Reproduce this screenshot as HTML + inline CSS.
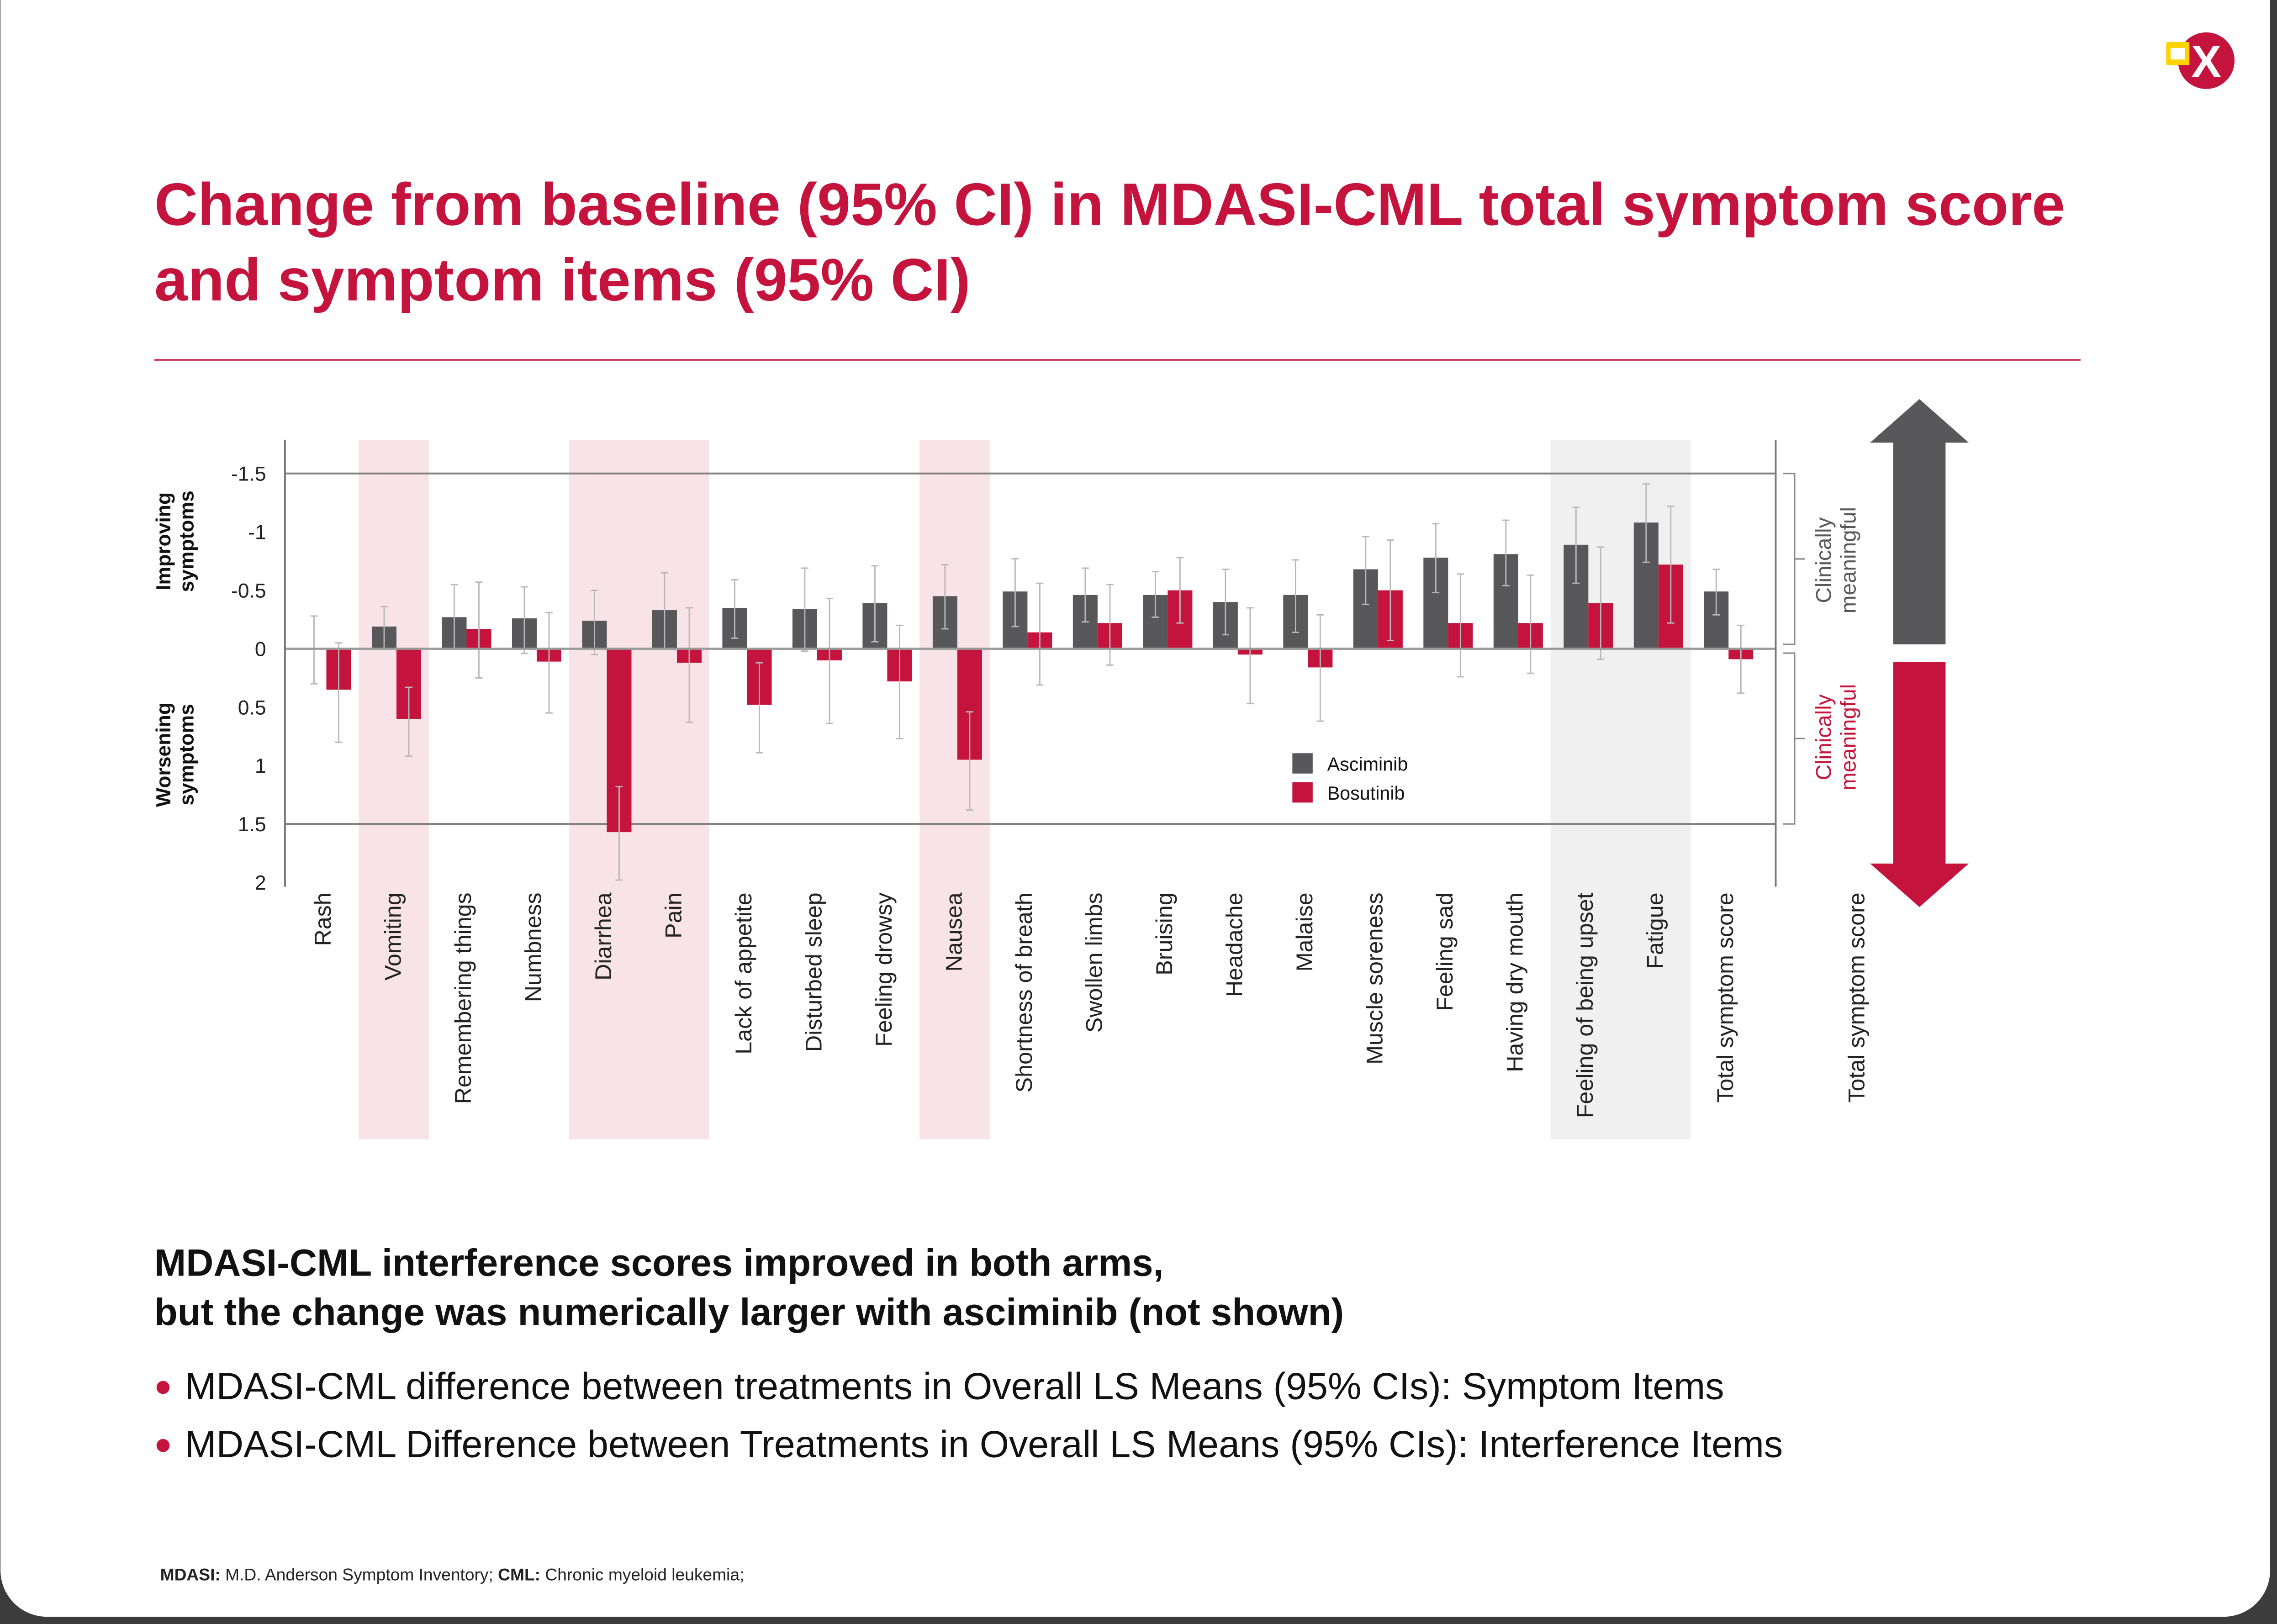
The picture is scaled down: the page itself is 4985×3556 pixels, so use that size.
<!DOCTYPE html>
<html><head><meta charset="utf-8"><style>
html,body{margin:0;padding:0;background:#3d3c3c;}
svg{display:block;}
text{font-family:"Liberation Sans",sans-serif;}
</style></head><body>
<svg id="s" width="4985" height="3556" viewBox="0 0 1568 1119" xmlns="http://www.w3.org/2000/svg">
<rect x="0" y="-40" width="1563.6" height="1154" rx="32" fill="#ffffff"/>
<g>
<circle cx="1519.6" cy="41.8" r="19.5" fill="#c4143d"/>
<text x="1519.6" y="53" font-size="31" font-weight="bold" fill="#fff" text-anchor="middle">X</text>
<rect x="1492" y="29" width="16" height="16" rx="1" fill="#ffd200"/>
<rect x="1495" y="33" width="10" height="8" fill="#fff"/>
</g>
<text font-size="41.3" font-weight="bold" fill="#c4143d"><tspan x="106" y="155">Change from baseline (95% CI) in MDASI-CML total symptom score</tspan><tspan x="106" y="207">and symptom items (95% CI)</tspan></text>
<line x1="106" y1="248" x2="1433" y2="248" stroke="#c4143d" stroke-width="1"/>
<g id="chart"></g>
<text font-size="26.2" font-weight="bold" fill="#111"><tspan x="106" y="879">MDASI-CML interference scores improved in both arms,</tspan><tspan x="106" y="913">but the change was numerically larger with asciminib (not shown)</tspan></text>
<circle cx="112" cy="956" r="4.5" fill="#c4143d"/>
<text x="127" y="964" font-size="26" fill="#111">MDASI-CML difference between treatments in Overall LS Means (95% CIs): Symptom Items</text>
<circle cx="112" cy="996" r="4.5" fill="#c4143d"/>
<text x="127" y="1004" font-size="26" fill="#111">MDASI-CML Difference between Treatments in Overall LS Means (95% CIs): Interference Items</text>
<text x="110" y="1089" font-size="11.7" fill="#222"><tspan font-weight="bold">MDASI:</tspan> M.D. Anderson Symptom Inventory;  <tspan font-weight="bold">CML:</tspan> Chronic myeloid leukemia;</text>
</svg>
<script>
const categories=["Rash","Vomiting","Remembering things","Numbness","Diarrhea","Pain","Lack of appetite","Disturbed sleep","Feeling drowsy","Nausea","Shortness of breath","Swollen limbs","Bruising","Headache","Malaise","Muscle soreness","Feeling sad","Having dry mouth","Feeling of being upset","Fatigue","Total symptom score"];
const asciminib=[0,-0.19,-0.27,-0.26,-0.24,-0.33,-0.35,-0.34,-0.39,-0.45,-0.49,-0.46,-0.46,-0.40,-0.46,-0.68,-0.78,-0.81,-0.89,-1.08,-0.49];
const asciminibLo=[-0.28,-0.36,-0.55,-0.53,-0.50,-0.65,-0.59,-0.69,-0.71,-0.72,-0.77,-0.69,-0.66,-0.68,-0.76,-0.96,-1.07,-1.10,-1.21,-1.41,-0.68];
const asciminibHi=[0.30,0,0,0.04,0.05,0,-0.09,0.02,-0.06,-0.17,-0.19,-0.23,-0.27,-0.12,-0.14,-0.38,-0.48,-0.54,-0.56,-0.74,-0.29];
const bosutinib=[0.35,0.60,-0.17,0.11,1.57,0.12,0.48,0.10,0.28,0.95,-0.14,-0.22,-0.50,0.05,0.16,-0.50,-0.22,-0.22,-0.39,-0.72,0.09];
const bosutinibLo=[-0.05,0.33,-0.57,-0.31,1.18,-0.35,0.12,-0.43,-0.20,0.54,-0.56,-0.55,-0.78,-0.35,-0.29,-0.93,-0.64,-0.63,-0.87,-1.22,-0.20];
const bosutinibHi=[0.80,0.92,0.25,0.55,1.98,0.63,0.89,0.64,0.77,1.38,0.31,0.14,-0.22,0.47,0.62,-0.07,0.24,0.21,0.09,-0.22,0.38];
const yTicks=[-1.5,-1,-0.5,0,0.5,1,1.5,2];
const yTickLabels=["-1.5","-1","-0.5","0","0.5","1","1.5","2"];
const pinkBands=[[1,1],[4,5],[9,9]];
const greyBands=[[18,19]];

const NS="http://www.w3.org/2000/svg";
const g=document.getElementById('chart');
const X0=196,X1=1223,Y0=447,PX=80.5;
const y=v=>Y0+v*PX;
const xc=i=>224.5+i*48.3;
const BW=17;
function el(t,a,p){const e=document.createElementNS(NS,t);for(const k in a)e.setAttribute(k,a[k]);(p||g).appendChild(e);return e;}

pinkBands.forEach(b=>{const r=el('rect',{x:xc(b[0])-26,y:303,width:(b[1]-b[0]+1)*48.3,height:482,fill:'#f8e4e8'});

});
greyBands.forEach(b=>{const r=el('rect',{x:xc(b[0])-26,y:303,width:(b[1]-b[0]+1)*48.3,height:482,fill:'#f1f0f1'});

});

[-1.5,1.5].forEach(v=>{const l=el('line',{x1:X0,x2:X1,y1:y(v),y2:y(v),stroke:'#808080','stroke-width':1.3});

});

yTicks.forEach((v,i)=>{const t=el('text',{x:183,y:y(v)+5,'font-size':14,'text-anchor':'end',fill:'#222'});t.textContent=yTickLabels[i];

});

categories.forEach((c,i)=>{
 const xa=xc(i)-BW,xb=xc(i);
 const a=asciminib[i],b=bosutinib[i];
 const ra=el('rect',{x:xa,y:Math.min(y(0),y(a)),width:BW,height:Math.abs(y(a)-y(0)),fill:'#58585a'});
 
 
 const rb=el('rect',{x:xb,y:Math.min(y(0),y(b)),width:BW,height:Math.abs(y(b)-y(0)),fill:'#c4143d'});
 
 
 [[xa+BW/2,asciminibLo[i],asciminibHi[i]],[xb+BW/2,bosutinibLo[i],bosutinibHi[i]]].forEach(e=>{
  const eg=el('g',{stroke:'#b8b8b8','stroke-width':0.9,fill:'none'});
  
  
  el('line',{x1:e[0],x2:e[0],y1:y(e[1]),y2:y(e[2])},eg);
  el('line',{x1:e[0]-2.5,x2:e[0]+2.5,y1:y(e[1]),y2:y(e[1])},eg);
  el('line',{x1:e[0]-2.5,x2:e[0]+2.5,y1:y(e[2]),y2:y(e[2])},eg);
 });
 const t=el('text',{transform:`translate(${xc(i)+3},615) rotate(-90)`,'font-size':15.8,'text-anchor':'end',fill:'#222'});
 t.textContent=c;
 
 
});
const tt=el('text',{transform:'translate(1284,615) rotate(-90)','font-size':15.8,'text-anchor':'end',fill:'#222'});
tt.textContent='Total symptom score';



const zl=el('line',{x1:X0,x2:X1,y1:Y0,y2:Y0,stroke:'#999','stroke-width':1.5});


const ax=el('line',{x1:X0,x2:X0,y1:303,y2:611,stroke:'#777','stroke-width':1.2});


const ax2=el('line',{x1:X1,x2:X1,y1:303,y2:611,stroke:'#777','stroke-width':1.2});



const yt1=el('text',{transform:'translate(117,373) rotate(-90)','font-size':14,'font-weight':'bold','text-anchor':'middle',fill:'#111'});
yt1.innerHTML='<tspan x="0" dy="0">Improving</tspan><tspan x="0" dy="16">symptoms</tspan>';


const yt2=el('text',{transform:'translate(117,520) rotate(-90)','font-size':14,'font-weight':'bold','text-anchor':'middle',fill:'#111'});
yt2.innerHTML='<tspan x="0" dy="0">Worsening</tspan><tspan x="0" dy="16">symptoms</tspan>';



[[y(-1.5),y(0)-3],[y(0)+3,y(1.5)]].forEach(b=>{
 const p=el('path',{d:`M1228 ${b[0]} H1236 V${b[1]} H1228 M1236 ${(b[0]+b[1])/2} H1243`,stroke:'#888','stroke-width':1,fill:'none'});
 
 
});
const c1=el('text',{transform:'translate(1261,386) rotate(-90)','font-size':15,'text-anchor':'middle',fill:'#58585a'});
c1.innerHTML='<tspan x="0" dy="0">Clinically</tspan><tspan x="0" dy="17">meaningful</tspan>';


const c2=el('text',{transform:'translate(1261,508) rotate(-90)','font-size':15,'text-anchor':'middle',fill:'#c4143d'});
c2.innerHTML='<tspan x="0" dy="0">Clinically</tspan><tspan x="0" dy="17">meaningful</tspan>';



const ar1=el('polygon',{points:'1322,275 1356,305 1340,305 1340,444 1304,444 1304,305 1288,305',fill:'#58585a'});


const ar2=el('polygon',{points:'1304,456 1340,456 1340,595 1356,595 1322,625 1288,595 1304,595',fill:'#c4143d'});



const lg1=el('rect',{x:890,y:519,width:14,height:14,fill:'#58585a'});


const lt1=el('text',{x:914,y:531,'font-size':13,fill:'#111'});lt1.textContent='Asciminib';


const lg2=el('rect',{x:890,y:539,width:14,height:14,fill:'#c4143d'});


const lt2=el('text',{x:914,y:551,'font-size':13,fill:'#111'});lt2.textContent='Bosutinib';


</script>
</body></html>
